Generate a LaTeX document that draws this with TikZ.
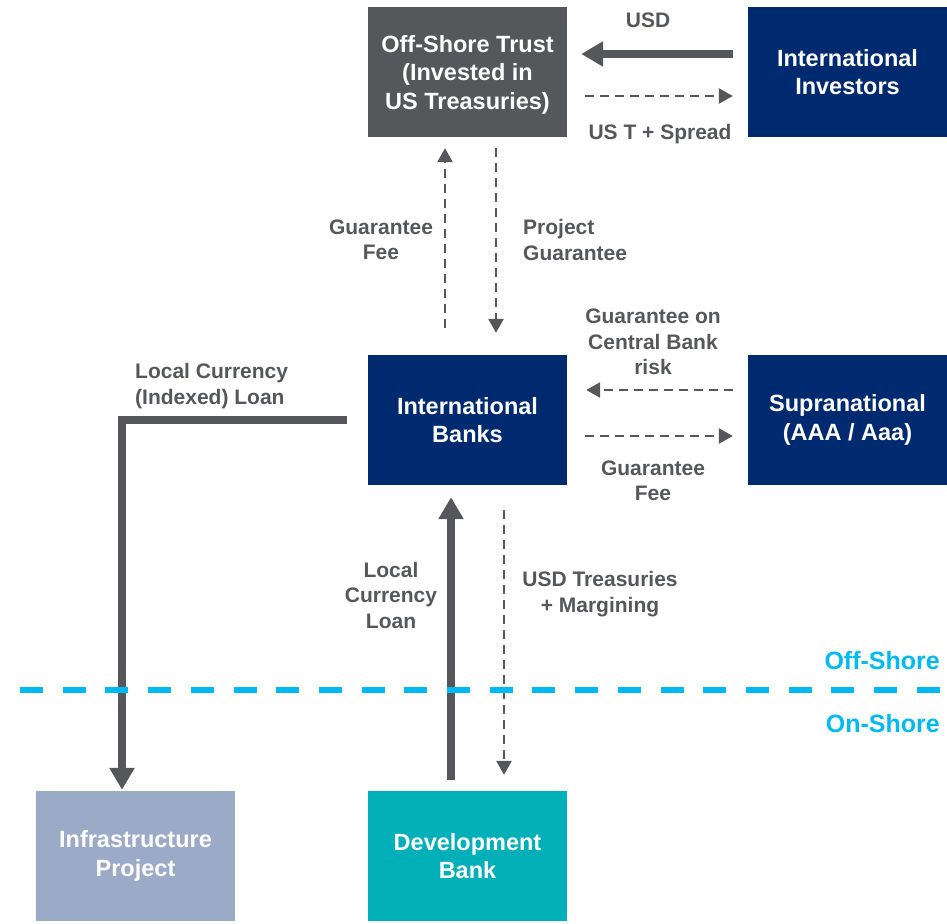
\documentclass[tikz,border=0pt]{standalone}
\usepackage{fontspec}
\setmainfont{Liberation Sans}
\usepackage{xcolor}
\usepackage{tikz}
\usetikzlibrary{arrows.meta}

\definecolor{trustgray}{RGB}{85,87,90}
\definecolor{navy}{RGB}{0,42,112}
\definecolor{infrablue}{RGB}{155,171,199}
\definecolor{devteal}{RGB}{0,175,184}
\definecolor{shorecyan}{RGB}{0,185,240}

\begin{document}
\begin{tikzpicture}[x=1pt, y=-1pt,
			lbl/.style={inner sep=0pt, align=center, text=trustgray, font=\fontsize{21}{25.5}\selectfont\bfseries},
			bigarrow/.style={draw=trustgray, line width=7.5pt, -{Triangle[length=22pt, width=24pt]}},
			dasharrow/.style={draw=trustgray, line width=2.6pt, dash pattern=on 9pt off 6pt, -{Triangle[length=14pt, width=15pt]}}]
			\useasboundingbox (0, 0) rectangle (947, 923);
			
			\begin{scope}[
				box/.style={align=center, draw=none, minimum width=199pt, minimum height=130pt, inner sep=0pt, text=white, font=\fontsize{23.5}{28.5}\selectfont\bfseries}]
				\node[box, fill=trustgray, text depth=0pt] (Trust) at (467.5, 72) {Off-Shore Trust\\(Invested in\\US Treasuries)};
				\node[box, fill=navy] (Inv) at (847.5, 72) {International\\Investors};
				\node[box, fill=navy] (Banks) at (467.5, 420) {International\\Banks};
				\node[box, fill=navy] (Supra) at (847.5, 420) {Supranational\\(AAA / Aaa)};
				\node[box, fill=infrablue] (Infra) at (135.5, 856) {Infrastructure\\Project};
				\node[box, fill=devteal] (Dev) at (467.5, 856) {Development\\Bank};
			\end{scope}
			
			\node[lbl] (usd) at (648, 20) {USD};
			\node[lbl] (spread) at (660, 134) {US T + Spread};
			\node[lbl] (gfee) at (381, 240) {Guarantee\\Fee};
			\node[lbl, align=left, anchor=west] (pguar) at (523, 240) {Project\\Guarantee};
			\node[lbl] (cbrisk) at (653, 342) {Guarantee on\\Central Bank\\risk};
			\node[lbl] (sfee) at (653, 481) {Guarantee\\Fee};
			\node[lbl, align=left, anchor=west] (lcil) at (135, 386) {Local Currency\\(Indexed) Loan};
			\node[lbl] (lcl) at (391, 595) {Local\\Currency\\Loan};
			\node[lbl] (usdt) at (600, 594) {USD Treasuries\\+ Margining};
			
			\draw[bigarrow, shorten <=15pt, shorten >=14pt] ([yshift=18pt]Inv.west) -- ([yshift=18pt]Trust.east);
			\draw[dasharrow, shorten <=18pt, shorten >=15pt] ([yshift=-24pt]Trust.east) -- ([yshift=-24pt]Inv.west);
			\draw[dasharrow, shorten <=27pt, shorten >=11pt] ([xshift=-22.5pt]Banks.north) -- ([xshift=-22.5pt]Trust.south);
			\draw[dasharrow, shorten <=11pt, shorten >=22pt] ([xshift=28.5pt]Trust.south) -- ([xshift=28.5pt]Banks.north);
			\draw[dasharrow, shorten <=15pt, shorten >=19pt] ([yshift=30pt]Supra.west) -- ([yshift=30pt]Banks.east);
			\draw[dasharrow, shorten <=18pt, shorten >=15pt] ([yshift=-16pt]Banks.east) -- ([yshift=-16pt]Supra.west);
			\draw[bigarrow, shorten <=11pt, shorten >=12pt] ([xshift=-16.5pt]Dev.north) -- ([xshift=-16.5pt]Banks.south);
			\draw[dasharrow, shorten <=25pt, shorten >=16pt] ([xshift=36.5pt]Banks.south) -- ([xshift=36.5pt]Dev.north);
			\draw[bigarrow, shorten <=21pt, shorten >=1pt] (Banks.west) -| ([xshift=-13.5pt]Infra.north);
			
			\coordinate (shoreL) at (20, 690);
			\coordinate (shoreR) at (940, 690);
			\draw[draw=shorecyan, line width=6.5pt, dash pattern=on 23pt off 19.7pt] (shoreL) -- (shoreR);
			\node[inner sep=0pt, anchor=east, text=shorecyan, font=\fontsize{25}{30}\selectfont\bfseries] (offs) at (940, 661) {Off-Shore};
			\node[inner sep=0pt, anchor=east, text=shorecyan, font=\fontsize{25}{30}\selectfont\bfseries] (ons) at (940, 724) {On-Shore};
		\end{tikzpicture}
\end{document}
